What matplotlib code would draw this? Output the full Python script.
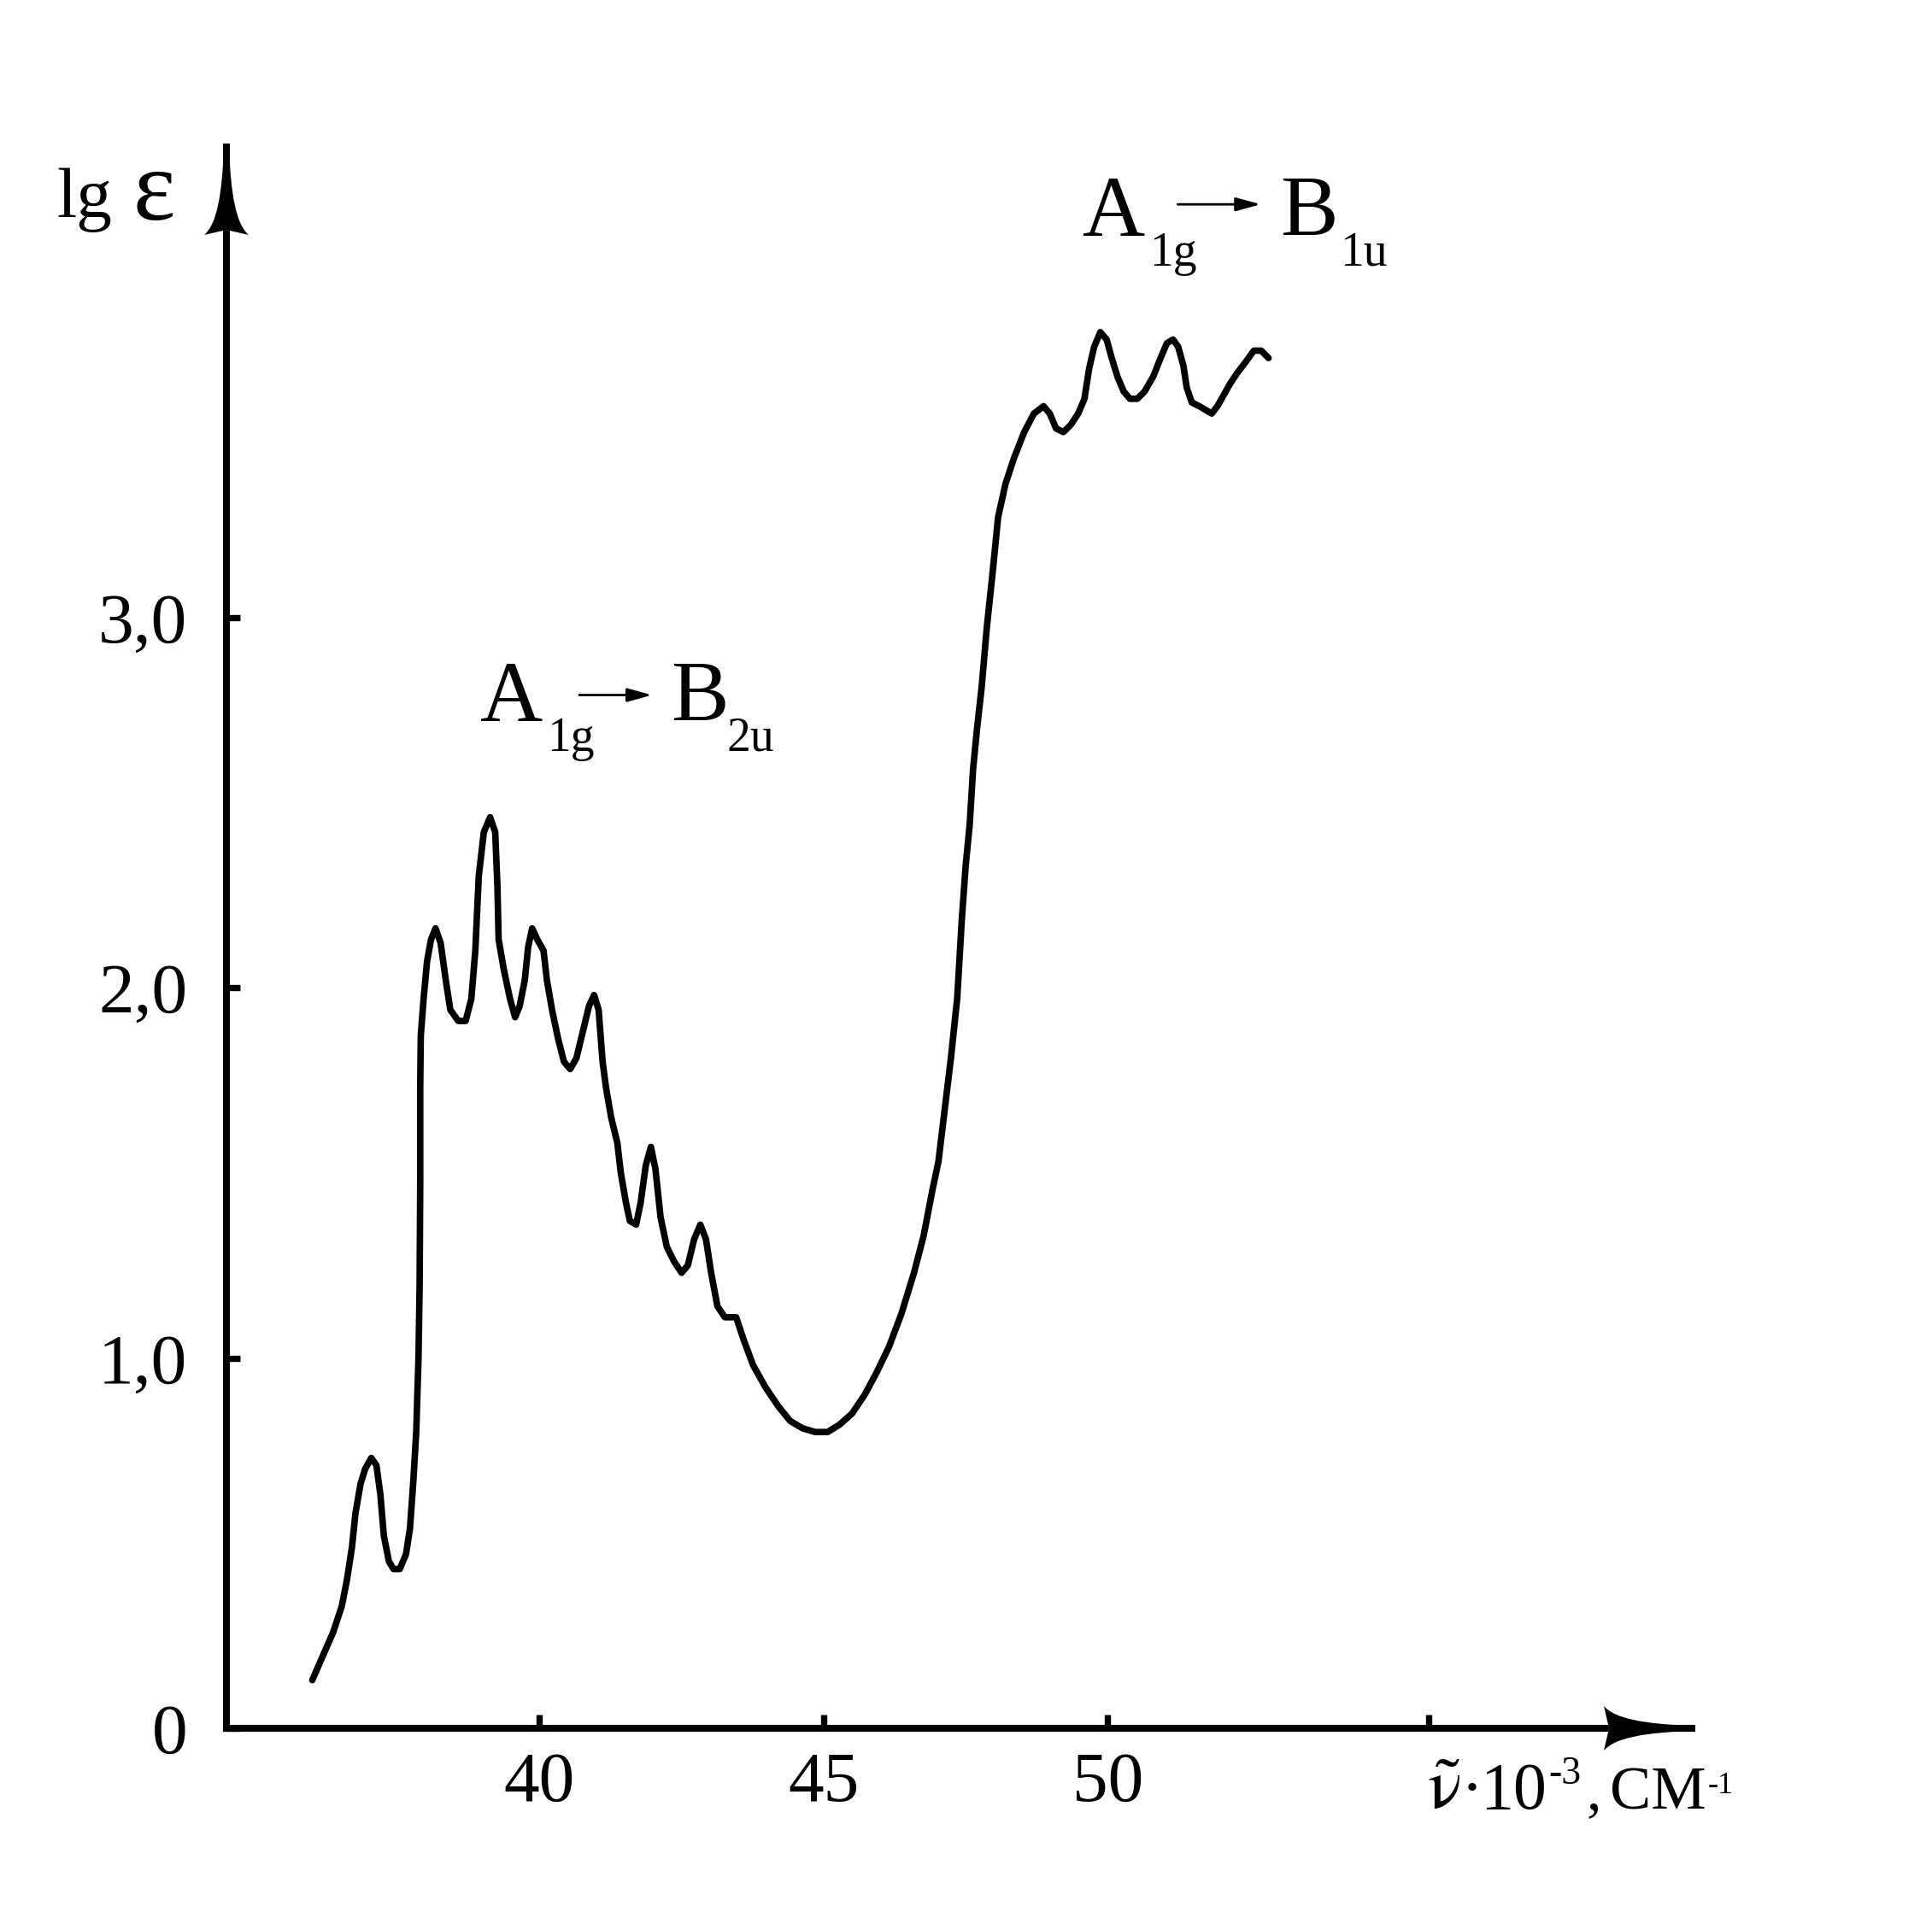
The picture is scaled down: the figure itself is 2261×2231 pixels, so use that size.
import matplotlib
matplotlib.use('Agg')
import matplotlib.pyplot as plt
from matplotlib.path import Path
from matplotlib.patches import PathPatch
from matplotlib.transforms import Affine2D

# absorption spectrum (wavenumber * 10^-3, cm^-1)
wavenumber = [36.00, 36.20, 36.37, 36.52, 36.61, 36.70, 36.76, 36.85, 36.93, 37.04,
              37.13, 37.20, 37.26, 37.35, 37.43, 37.54, 37.65, 37.72, 37.78, 37.83,
              37.87, 37.89, 37.90, 37.90, 37.91, 37.96, 38.02, 38.09, 38.17, 38.26,
              38.35, 38.43, 38.57, 38.70, 38.80, 38.87, 38.93, 39.02, 39.13, 39.22,
              39.26, 39.28, 39.37, 39.48, 39.57, 39.65, 39.74, 39.80, 39.87, 39.96,
              40.07, 40.13, 40.22, 40.33, 40.43, 40.54, 40.65, 40.76, 40.87, 40.96,
              41.04, 41.11, 41.17, 41.26, 41.37, 41.43, 41.52, 41.59, 41.70, 41.78,
              41.87, 41.96, 42.04, 42.13, 42.24, 42.37, 42.50, 42.61, 42.72, 42.83,
              42.93, 43.02, 43.13, 43.26, 43.46, 43.59, 43.76, 43.98, 44.20, 44.41,
              44.63, 44.85, 45.07, 45.28, 45.50, 45.72, 45.93, 46.15, 46.37, 46.59,
              46.76, 46.91, 47.02, 47.13, 47.24, 47.35, 47.43, 47.50, 47.57, 47.63,
              47.70, 47.78, 47.87, 47.98, 48.07, 48.20, 48.35, 48.53, 48.70, 48.87,
              48.98, 49.09, 49.22, 49.35, 49.48, 49.59, 49.67, 49.76, 49.87, 49.98,
              50.07, 50.17, 50.28, 50.39, 50.52, 50.65, 50.80, 50.93, 51.04, 51.15,
              51.24, 51.33, 51.39, 51.48, 51.61, 51.72, 51.83, 51.93, 52.04, 52.15,
              52.28, 52.43, 52.57, 52.70, 52.83]
lg_eps = [0.13, 0.20, 0.26, 0.33, 0.40, 0.49, 0.58, 0.66, 0.70, 0.73,
          0.71, 0.63, 0.52, 0.45, 0.43, 0.43, 0.47, 0.54, 0.67, 0.80,
          1.00, 1.20, 1.47, 1.73, 1.87, 1.97, 2.07, 2.13, 2.16, 2.12,
          2.02, 1.94, 1.91, 1.91, 1.97, 2.10, 2.30, 2.42, 2.46, 2.42,
          2.27, 2.13, 2.05, 1.97, 1.92, 1.95, 2.02, 2.11, 2.16, 2.13,
          2.10, 2.02, 1.94, 1.86, 1.80, 1.78, 1.81, 1.88, 1.95, 1.98,
          1.94, 1.80, 1.73, 1.65, 1.58, 1.50, 1.42, 1.37, 1.36, 1.42,
          1.52, 1.57, 1.51, 1.38, 1.30, 1.26, 1.23, 1.25, 1.32, 1.36,
          1.32, 1.23, 1.14, 1.11, 1.11, 1.05, 0.98, 0.92, 0.87, 0.83,
          0.81, 0.80, 0.80, 0.82, 0.85, 0.90, 0.96, 1.03, 1.12, 1.23,
          1.33, 1.45, 1.53, 1.67, 1.81, 1.97, 2.18, 2.33, 2.44, 2.59,
          2.70, 2.81, 2.97, 3.13, 3.27, 3.36, 3.43, 3.50, 3.55, 3.57,
          3.55, 3.51, 3.50, 3.52, 3.55, 3.59, 3.67, 3.73, 3.77, 3.75,
          3.70, 3.65, 3.61, 3.59, 3.59, 3.61, 3.65, 3.70, 3.74, 3.75,
          3.73, 3.68, 3.62, 3.58, 3.57, 3.56, 3.55, 3.57, 3.60, 3.63,
          3.66, 3.69, 3.72, 3.72, 3.70]

x_ticks = [40, 45, 50, 55.65]
x_tick_labels = ['40', '45', '50', '']
y_ticks = [0, 1, 2, 3]
y_tick_labels = ['0', '1,0', '2,0', '3,0']

plt.rcParams['font.family'] = ['Liberation Serif', 'DejaVu Serif']
plt.rcParams['mathtext.fontset'] = 'stix'

W, H = 2261, 2231
fig = plt.figure(figsize=(W / 100, H / 100), dpi=100)
ax = fig.add_axes([265 / W, 1 - 2023 / H, (1980 - 265) / W, (2023 - 172) / H])

ax.plot(wavenumber, lg_eps, color='k', lw=5.5, solid_joinstyle='round',
        solid_capstyle='round')
ax.set_xlim(34.49, 60.28)
ax.set_ylim(0, 4.27)

for s in ['top', 'right']:
    ax.spines[s].set_visible(False)
for s in ['left', 'bottom']:
    ax.spines[s].set_linewidth(5.8)

ax.set_xticks(x_ticks, x_tick_labels)
ax.set_yticks(y_ticks, y_tick_labels)
ax.tick_params(direction='in', length=11.5, width=5.3, labelsize=60)
ax.tick_params(axis='x', pad=20)
ax.tick_params(axis='y', pad=33)

# arrow heads at the ends of both axes
verts = [(-3, 0), (3, 0), (5, -55), (11, -90), (26, -103), (0, -97),
         (-26, -103), (-11, -90), (-5, -55), (-3, 0), (-3, 0)]
codes = [Path.MOVETO, Path.LINETO, Path.CURVE4, Path.CURVE4, Path.CURVE4,
         Path.LINETO, Path.LINETO, Path.CURVE4, Path.CURVE4, Path.CURVE4,
         Path.CLOSEPOLY]
head = Path(verts, codes)
tip_y = ax.transAxes.transform((0, 1))
tip_x = ax.transAxes.transform((1, 0))
for tip, rot in [(tip_y, 0), (tip_x, -90)]:
    p = PathPatch(head, facecolor='k', edgecolor='k', lw=0,
                  transform=Affine2D().rotate_deg(rot).translate(*tip))
    p.set_clip_on(False)
    fig.add_artist(p)

# transition labels
arrow = dict(arrowstyle='-|>,head_length=0.8,head_width=0.22', color='k',
             lw=2, mutation_scale=22, shrinkA=0, shrinkB=0)
ax.text(38.96, 2.72, 'A', fontsize=73)
ax.text(40.13, 2.64, '1g', fontsize=40)
ax.annotate('', xy=(41.98, 2.79), xytext=(40.70, 2.79), arrowprops=arrow)
ax.text(42.31, 2.72, 'B', fontsize=73)
ax.text(43.29, 2.64, '2u', fontsize=40)

ax.text(49.56, 4.03, 'A', fontsize=73)
ax.text(50.74, 3.95, '1g', fontsize=40)
ax.annotate('', xy=(52.69, 4.115), xytext=(51.23, 4.115), arrowprops=arrow)
ax.text(53.04, 4.03, 'B', fontsize=73)
ax.text(54.09, 3.95, '1u', fontsize=40)

# axis titles
fig.text(66 / W, 1 - 254 / H, 'lg', fontsize=60, va='baseline')
fig.text(156 / W, 1 - 257 / H, 'ε', fontsize=85, va='baseline')

fig.text(1670 / W, 1 - 2117 / H, r'$\tilde{\mathrm{\nu}}$', fontsize=60, va='baseline')
fig.text(1710 / W, 1 - 2117 / H, '·', fontsize=56, va='baseline')
fig.text(1732 / W, 1 - 2117 / H, '10', fontsize=56, va='baseline')
fig.text(1812 / W, 1 - 2088 / H, '-3', fontsize=33, va='baseline')
fig.text(1856 / W, 1 - 2117 / H, ',', fontsize=50, va='baseline')
fig.text(1884 / W, 1 - 2117 / H, 'СМ', fontsize=52, va='baseline')
fig.text(1999 / W, 1 - 2099 / H, '-1', fontsize=26, va='baseline')

fig.savefig('out.png', dpi=100, facecolor='white')
